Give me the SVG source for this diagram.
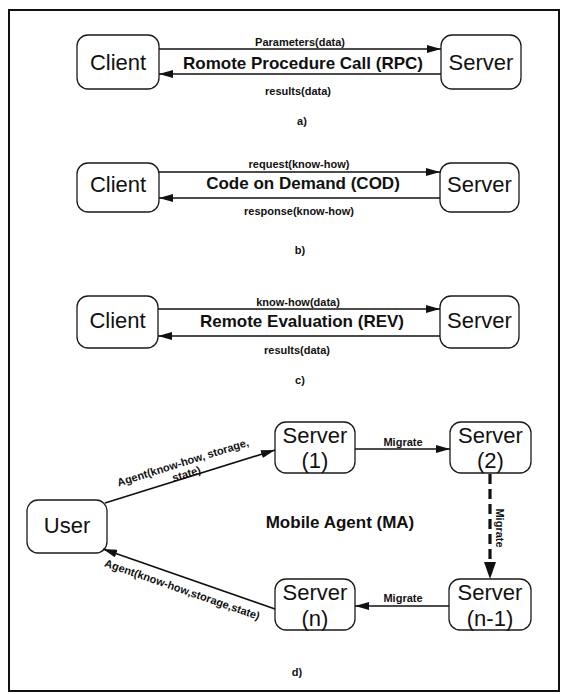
<svg xmlns="http://www.w3.org/2000/svg" width="562" height="694" viewBox="0 0 562 694">
  <style>
    .frame { fill: #fff; stroke: #111; stroke-width: 2; }
    .box { fill: #fff; stroke: #1a1a1a; stroke-width: 1.3; }
    .node { font-family: "Liberation Sans", Arial, sans-serif; font-size: 22px; fill: #111; text-anchor: middle; }
    .title { font-family: "Liberation Sans", Arial, sans-serif; font-size: 17px; font-weight: bold; fill: #111; text-anchor: middle; }
    .lbl { font-family: "Liberation Sans", Arial, sans-serif; font-size: 11px; font-weight: bold; fill: #111; text-anchor: middle; }
    .edge { stroke: #111; stroke-width: 1.7; fill: none; }
    .dash { stroke: #111; stroke-width: 3.2; fill: none; stroke-dasharray: 10 5; }
  </style>
  <defs>
    <marker id="arrow" markerUnits="userSpaceOnUse" markerWidth="14" markerHeight="8" refX="14" refY="4" orient="auto">
      <path d="M0,0 L14,4 L0,8 z" fill="#111"/>
    </marker>
    <marker id="arrowBig" markerUnits="userSpaceOnUse" markerWidth="17" markerHeight="12" refX="17" refY="6" orient="auto">
      <path d="M0,0 L17,6 L0,12 z" fill="#111"/>
    </marker>
  </defs>

  <rect class="frame" x="9" y="10" width="550" height="681"/>

  <!-- a) RPC -->
  <g id="rpc-client"><rect class="box" x="77" y="35" width="82" height="54" rx="11"/><text class="node" x="118" y="70">Client</text></g>
  <g id="rpc-server"><rect class="box" x="441" y="35" width="80" height="54" rx="11"/><text class="node" x="481" y="70">Server</text></g>

  <!-- b) COD -->
  <g id="cod-client"><rect class="box" x="77" y="163" width="82" height="49" rx="11"/><text class="node" x="118" y="192">Client</text></g>
  <g id="cod-server"><rect class="box" x="440" y="163" width="79" height="49" rx="11"/><text class="node" x="479.5" y="192">Server</text></g>

  <!-- c) REV -->
  <g id="rev-client"><rect class="box" x="77" y="296" width="81" height="52" rx="11"/><text class="node" x="117.5" y="328">Client</text></g>
  <g id="rev-server"><rect class="box" x="440" y="296" width="79" height="52" rx="11"/><text class="node" x="479.5" y="328">Server</text></g>

  <!-- d) MA -->
  <g id="ma-user"><rect class="box" x="27" y="500" width="80" height="53" rx="11"/><text class="node" x="67" y="533">User</text></g>
  <g id="ma-server1"><rect class="box" x="275" y="422" width="80" height="51" rx="11"/><text class="node" x="315" y="443">Server</text><text class="node" x="315" y="468">(1)</text></g>
  <g id="ma-server2"><rect class="box" x="450" y="422" width="81" height="51" rx="11"/><text class="node" x="490.5" y="443">Server</text><text class="node" x="490.5" y="468">(2)</text></g>
  <g id="ma-servern"><rect class="box" x="275" y="579" width="80" height="51" rx="11"/><text class="node" x="315" y="600">Server</text><text class="node" x="315" y="626">(n)</text></g>
  <g id="ma-servern1"><rect class="box" x="449" y="579" width="82" height="51" rx="11"/><text class="node" x="490" y="600">Server</text><text class="node" x="490" y="626">(n-1)</text></g>

  <g id="connectors">
    <line class="edge" x1="159" y1="49" x2="441" y2="49" marker-end="url(#arrow)"/>
    <line class="edge" x1="441" y1="74" x2="159" y2="74" marker-end="url(#arrow)"/>
    <line class="edge" x1="159" y1="172" x2="440" y2="172" marker-end="url(#arrow)"/>
    <line class="edge" x1="440" y1="198" x2="159" y2="198" marker-end="url(#arrow)"/>
    <line class="edge" x1="158" y1="309" x2="440" y2="309" marker-end="url(#arrow)"/>
    <line class="edge" x1="440" y1="336" x2="158" y2="336" marker-end="url(#arrow)"/>

    <line class="edge" x1="105" y1="503" x2="275" y2="450" marker-end="url(#arrow)"/>
    <line class="edge" x1="355" y1="449" x2="450" y2="449" marker-end="url(#arrow)"/>
    <line class="dash" x1="490" y1="474" x2="490" y2="579" marker-end="url(#arrowBig)"/>
    <line class="edge" x1="449" y1="606" x2="355" y2="606" marker-end="url(#arrow)"/>
    <line class="edge" x1="275" y1="609" x2="103" y2="549" marker-end="url(#arrow)"/>
  </g>

  <g id="labels">
    <text class="lbl" x="300" y="46">Parameters(data)</text>
    <text class="title" x="303" y="69">Romote Procedure Call (RPC)</text>
    <text class="lbl" x="298" y="95">results(data)</text>
    <text class="lbl" x="302" y="125">a)</text>

    <text class="lbl" x="299" y="168">request(know-how)</text>
    <text class="title" x="303" y="189">Code on Demand (COD)</text>
    <text class="lbl" x="299" y="215">response(know-how)</text>
    <text class="lbl" x="300" y="254">b)</text>

    <text class="lbl" x="298" y="306">know-how(data)</text>
    <text class="title" x="302" y="327">Remote Evaluation (REV)</text>
    <text class="lbl" x="297" y="354">results(data)</text>
    <text class="lbl" x="300" y="384">c)</text>

    <g transform="translate(184,466) rotate(-17.3)">
      <text class="lbl" x="0" y="0">Agent(know-how, storage,</text>
      <text class="lbl" x="0" y="12">state)</text>
    </g>
    <text class="lbl" x="403" y="446">Migrate</text>
    <text class="lbl" transform="translate(496,528) rotate(90)" x="0" y="0">Migrate</text>
    <text class="lbl" x="403" y="602">Migrate</text>
    <text class="lbl" transform="translate(181,593) rotate(19.2)" x="0" y="0">Agent(know-how,storage,state)</text>
    <text class="title" x="340" y="528">Mobile Agent (MA)</text>
    <text class="lbl" x="297" y="676">d)</text>
  </g>
</svg>
